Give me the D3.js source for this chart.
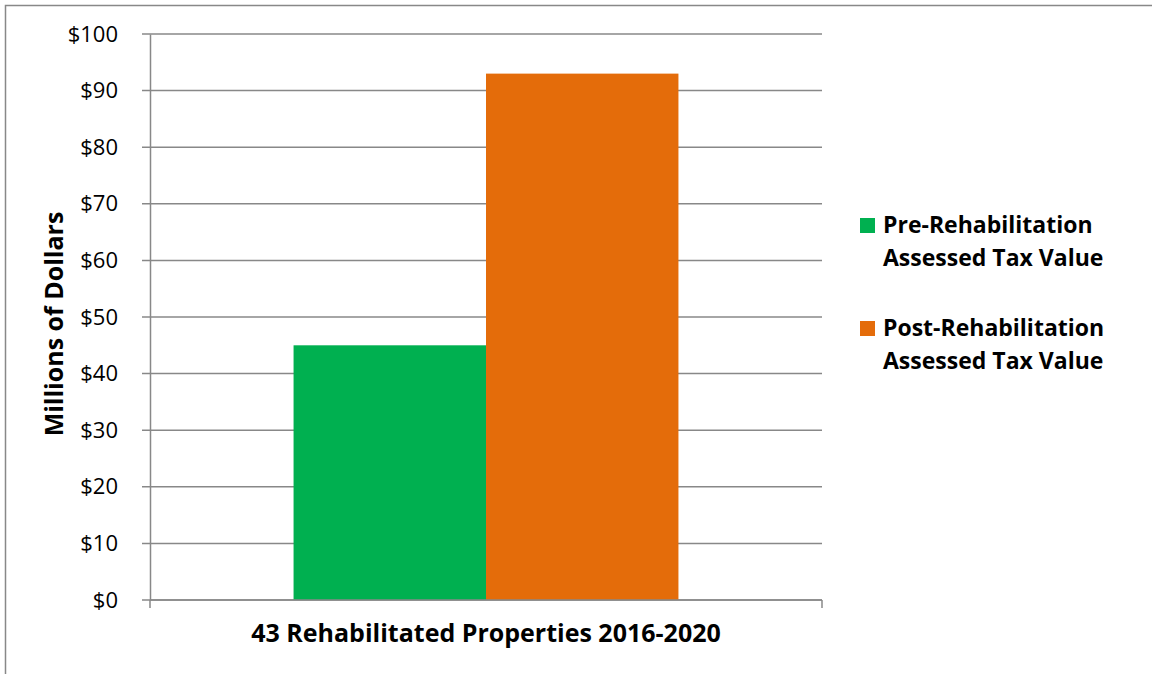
<!DOCTYPE html>
<html>
<head>
<meta charset="utf-8">
<script src="https://cdn.jsdelivr.net/npm/d3@7"></script>
<style>
  html, body { margin: 0; padding: 0; background: #fff; }
  svg text { font-family: "Open Sans", sans-serif; fill: #000; }
</style>
</head>
<body>
<svg id="chart" width="1152" height="674"></svg>
<script>
// values in millions of dollars
const categories = ["43 Rehabilitated Properties 2016-2020"];
const seriesNames = ["Pre-Rehabilitation Assessed Tax Value", "Post-Rehabilitation Assessed Tax Value"];
const legendLines = [["Pre-Rehabilitation", "Assessed Tax Value"], ["Post-Rehabilitation", "Assessed Tax Value"]];
const seriesValues = [45, 93];
const seriesColors = ["#00B050", "#E46C0A"];
const yTicks = [0, 10, 20, 30, 40, 50, 60, 70, 80, 90, 100];

const svg = d3.select("#chart");
const M = { top: 34, left: 150, right: 330, bottom: 74 };
const W = 1152, H = 674;
const plotW = W - M.left - M.right;
const plotH = H - M.top - M.bottom;

// outer frame
svg.append("path")
  .attr("d", `M5.5,${H} V5.5 H${W}`)
  .attr("fill", "none")
  .attr("stroke", "#888")
  .attr("stroke-width", 1.5);

const g = svg.append("g").attr("transform", `translate(${M.left},${M.top})`);

const y = d3.scaleLinear().domain([0, 100]).range([plotH, 0]);
const x0 = d3.scaleBand().domain(categories).range([0, plotW]).paddingInner(0).paddingOuter(0.373);
const x1 = d3.scaleBand().domain(seriesNames).range([0, x0.bandwidth()]);

// gridlines
g.append("g")
  .selectAll("line")
  .data(yTicks)
  .join("line")
  .attr("x1", -8).attr("x2", plotW)
  .attr("y1", d => y(d)).attr("y2", d => y(d))
  .attr("stroke", "#888").attr("stroke-width", 1.5);

// bars
g.append("g")
  .selectAll("rect")
  .data(seriesNames.map((s, i) => ({ s, v: seriesValues[i], c: seriesColors[i] })))
  .join("rect")
  .attr("x", d => x0(categories[0]) + x1(d.s))
  .attr("width", x1.bandwidth())
  .attr("y", d => y(d.v))
  .attr("height", d => plotH - y(d.v))
  .attr("fill", d => d.c);

// y axis
const yAxis = g.append("g")
  .call(d3.axisLeft(y).tickValues(yTicks).tickSize(0).tickPadding(32).tickFormat(d => "$" + d));
yAxis.select(".domain").attr("stroke", "#888").attr("stroke-width", 1.5);
yAxis.selectAll("text").style("font-size", "22px").attr("fill", "#000");

// x axis baseline with end ticks
g.append("line")
  .attr("x1", 0).attr("x2", plotW)
  .attr("y1", plotH).attr("y2", plotH)
  .attr("stroke", "#888").attr("stroke-width", 1.5);
g.append("g")
  .selectAll("line")
  .data([0, plotW])
  .join("line")
  .attr("x1", d => d).attr("x2", d => d)
  .attr("y1", plotH).attr("y2", plotH + 8)
  .attr("stroke", "#888").attr("stroke-width", 1.5);

// category label
g.append("text")
  .attr("x", x0(categories[0]) + x0.bandwidth() / 2)
  .attr("y", plotH + 42)
  .attr("text-anchor", "middle")
  .style("font-size", "25px").style("font-weight", "bold")
  .text(categories[0]);

// y title
svg.append("text")
  .attr("transform", `translate(63,324) rotate(-90)`)
  .attr("text-anchor", "middle")
  .style("font-size", "25px").style("font-weight", "bold")
  .text("Millions of Dollars");

// legend
const legend = svg.append("g").attr("transform", "translate(860,218)");
legendLines.forEach((lines, i) => {
  const lg = legend.append("g").attr("transform", `translate(0,${i * 103})`);
  lg.append("rect").attr("width", 15).attr("height", 15).attr("fill", seriesColors[i]);
  lines.forEach((t, j) => {
    lg.append("text")
      .attr("x", 23).attr("y", 15 + j * 33)
      .style("font-size", "23px").style("font-weight", "bold")
      .text(t);
  });
});
</script>
</body>
</html>
